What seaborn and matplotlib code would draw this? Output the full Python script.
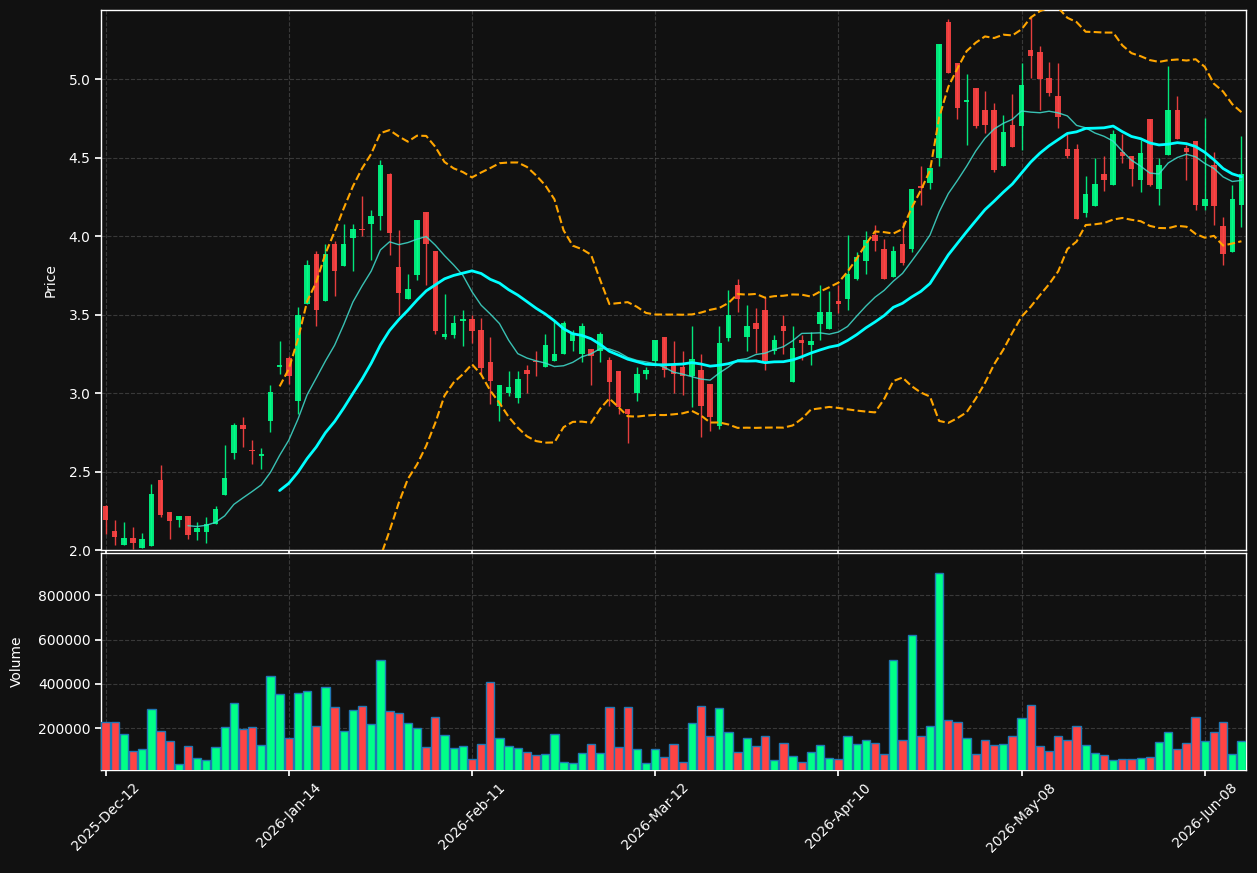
import numpy as np
import pandas as pd
import matplotlib
matplotlib.use("Agg")
import matplotlib.pyplot as plt
import seaborn as sns

# ---------------- data ----------------
tick_labels = ["2025-Dec-12", "2026-Jan-14", "2026-Feb-11", "2026-Mar-12",
               "2026-Apr-10", "2026-May-08", "2026-Jun-08"]

opens = [2.28, 2.12, 2.034, 2.077, 2.015, 2.028, 2.447, 2.243, 2.191, 2.217,
         2.117, 2.117, 2.168, 2.351, 2.615, 2.798, 2.632, 2.596, 2.819, 3.164,
         3.22, 2.947, 3.566, 3.887, 3.585, 3.951, 3.809, 3.987, 4.043, 4.077,
         4.128, 4.398, 3.80, 3.596, 3.755, 4.151, 3.902, 3.355, 3.372, 3.457,
         3.474, 3.404, 3.20, 2.915, 3.002, 2.966, 3.149, 3.202, 3.164, 3.206,
         3.247, 3.334, 3.247, 3.281, 3.266, 3.211, 3.143, 2.898, 3.0, 3.119,
         3.206, 3.360, 3.185, 3.168, 3.106, 3.149, 3.060, 2.791, 3.349, 3.691,
         3.355, 3.449, 3.532, 3.266, 3.430, 3.068, 3.338, 3.304, 3.438, 3.406,
         3.589, 3.598, 3.726, 3.840, 4.004, 3.915, 3.738, 3.951, 3.917, 4.321,
         4.338, 4.498, 5.362, 5.10, 4.851, 4.943, 4.802, 4.802, 4.447, 4.706,
         4.702, 5.185, 5.172, 5.006, 4.891, 4.553, 4.553, 4.147, 4.191, 4.398,
         4.326, 4.534, 4.513, 4.357, 4.743, 4.30, 4.515, 4.802, 4.564, 4.604,
         4.191, 4.451, 4.062, 3.898, 4.198]
highs = [2.285, 2.19, 2.177, 2.147, 2.106, 2.419, 2.54, 2.243, 2.217, 2.217,
         2.177, 2.211, 2.279, 2.668, 2.811, 2.849, 2.70, 2.649, 3.053, 3.33,
         3.238, 3.551, 3.849, 3.902, 3.951, 3.968, 4.074, 4.074, 4.253, 4.168,
         4.483, 4.40, 4.040, 3.760, 4.10, 4.151, 3.902, 3.632, 3.498, 3.530,
         3.498, 3.479, 3.360, 3.051, 3.140, 3.140, 3.179, 3.270, 3.377, 3.462,
         3.460, 3.402, 3.449, 3.281, 3.391, 3.232, 3.143, 2.898, 3.164, 3.168,
         3.338, 3.360, 3.334, 3.270, 3.430, 3.251, 3.060, 3.430, 3.657, 3.728,
         3.562, 3.543, 3.611, 3.370, 3.498, 3.428, 3.370, 3.391, 3.689, 3.653,
         3.687, 4.004, 3.90, 4.030, 4.072, 3.983, 3.934, 4.089, 4.302, 4.449,
         4.432, 5.223, 5.381, 5.10, 5.030, 4.943, 4.923, 4.845, 4.774, 4.902,
         5.10, 5.398, 5.211, 5.111, 5.10, 4.651, 4.589, 4.381, 4.50, 4.513,
         4.674, 4.651, 4.513, 4.611, 4.743, 4.498, 5.083, 4.891, 4.579, 4.604,
         4.749, 4.536, 4.121, 4.328, 4.636]
lows = [2.10, 2.03, 2.034, 2.004, 2.015, 2.028, 2.213, 2.072, 2.145, 2.072,
        2.066, 2.047, 2.168, 2.351, 2.579, 2.653, 2.547, 2.513, 2.751, 3.12,
        3.058, 2.866, 3.566, 3.426, 3.585, 3.617, 3.809, 3.777, 4.002, 3.845,
        4.040, 3.881, 3.494, 3.596, 3.721, 3.685, 3.377, 3.347, 3.351, 3.302,
        3.317, 3.121, 2.930, 2.821, 2.979, 2.936, 3.0, 3.109, 3.164, 3.206,
        3.247, 3.266, 3.20, 3.051, 3.20, 2.917, 2.866, 2.679, 2.947, 3.087,
        3.189, 3.104, 3.0, 2.987, 2.913, 2.721, 2.760, 2.770, 3.334, 3.515,
        3.266, 3.253, 3.147, 3.249, 3.249, 3.068, 3.211, 3.177, 3.338, 3.406,
        3.509, 3.530, 3.72, 3.760, 3.902, 3.726, 3.738, 3.813, 3.90, 4.196,
        4.302, 4.449, 5.040, 4.743, 4.583, 4.691, 4.657, 4.409, 4.447, 4.568,
        4.551, 5.004, 4.802, 4.891, 4.691, 4.498, 4.106, 4.121, 4.191, 4.287,
        4.326, 4.466, 4.321, 4.281, 4.319, 4.20, 4.515, 4.617, 4.355, 4.168,
        4.164, 4.072, 3.817, 3.898, 4.055]
closes = [2.19, 2.085, 2.077, 2.047, 2.068, 2.357, 2.223, 2.187, 2.217, 2.098,
          2.138, 2.164, 2.262, 2.46, 2.798, 2.774, 2.628, 2.613, 3.009, 3.181,
          3.106, 3.50, 3.817, 3.528, 3.883, 3.777, 3.951, 4.043, 4.038, 4.126,
          4.451, 4.019, 3.636, 3.660, 4.10, 3.947, 3.398, 3.379, 3.443, 3.474,
          3.398, 3.160, 3.074, 3.051, 3.040, 3.091, 3.119, 3.198, 3.306, 3.249,
          3.449, 3.377, 3.430, 3.234, 3.379, 3.068, 2.909, 2.864, 3.121, 3.149,
          3.338, 3.147, 3.121, 3.106, 3.217, 2.915, 2.845, 3.319, 3.498, 3.598,
          3.428, 3.406, 3.206, 3.338, 3.398, 3.289, 3.317, 3.334, 3.519, 3.513,
          3.566, 3.760, 3.866, 3.972, 3.968, 3.726, 3.902, 3.828, 4.302, 4.309,
          4.432, 5.223, 5.040, 4.817, 4.866, 4.702, 4.709, 4.419, 4.662, 4.568,
          4.962, 5.149, 5.002, 4.913, 4.760, 4.509, 4.106, 4.266, 4.33, 4.357,
          4.653, 4.509, 4.428, 4.532, 4.323, 4.451, 4.802, 4.617, 4.536, 4.196,
          4.234, 4.191, 3.887, 4.238, 4.394]
volumes = [227000, 227000, 173000, 96000, 105000, 286000, 186000, 141000, 37000, 119000,
           64000, 55000, 114000, 204000, 313000, 195000, 204000, 123000, 435000, 353000,
           155000, 358000, 367000, 209000, 385000, 295000, 186000, 281000, 299000, 218000,
           507000, 277000, 268000, 222000, 200000, 114000, 250000, 168000, 110000, 119000,
           60000, 129000, 408000, 155000, 122000, 113000, 92000, 78000, 82000, 173000,
           49000, 45000, 87000, 128000, 87000, 295000, 114000, 295000, 105000, 42000,
           105000, 69000, 128000, 49000, 222000, 299000, 164000, 290000, 182000, 92000,
           155000, 119000, 164000, 55000, 132000, 73000, 49000, 92000, 123000, 64000,
           60000, 164000, 128000, 146000, 132000, 82000, 507000, 146000, 620000, 164000,
           209000, 898000, 236000, 227000, 155000, 82000, 146000, 123000, 128000, 164000,
           245000, 304000, 119000, 96000, 164000, 146000, 209000, 123000, 87000, 78000,
           55000, 60000, 60000, 64000, 69000, 137000, 182000, 105000, 132000, 250000,
           141000, 182000, 227000, 82000, 141000]

# ---------------- derived ----------------
df = pd.DataFrame({"open": opens, "high": highs, "low": lows,
                   "close": closes, "volume": volumes})
df["idx"] = np.arange(len(df))
df["ma10"] = df["close"].rolling(10).mean()
df["ma20"] = df["close"].rolling(20).mean()
std20 = df["close"].rolling(20).std(ddof=0)
df["bb_up"] = df["ma20"] + 2 * std20
df["bb_lo"] = df["ma20"] - 2 * std20
up = df["close"] >= df["open"]

UP = "#00ff88"
DOWN = "#ff4444"
BG = "#111111"

sns.set_theme(style="darkgrid", rc={
    "figure.facecolor": BG, "axes.facecolor": BG, "savefig.facecolor": BG,
    "axes.edgecolor": "white", "axes.linewidth": 1.0,
    "axes.labelcolor": "white", "text.color": "white",
    "xtick.color": "white", "ytick.color": "white",
    "xtick.bottom": True, "ytick.left": True,
    "xtick.major.size": 4, "ytick.major.size": 4,
    "xtick.labelsize": 10, "ytick.labelsize": 10, "axes.labelsize": 10,
    "grid.color": "#555555", "grid.linestyle": "--", "grid.linewidth": 0.8,
    "grid.alpha": 0.6,
})
plt.rcParams["font.family"] = ["DejaVu Sans"]

W, H = 1257, 873
fig = plt.figure(figsize=(W / 100, H / 100), dpi=100)
ax = fig.add_axes([101 / W, (H - 550) / H, 1145 / W, 540 / H])
axv = fig.add_axes([101 / W, (H - 770) / H, 1145 / W, 217 / H], sharex=ax)

colors = np.where(up, UP, DOWN)

# candles
ax.vlines(df["idx"], df["low"], df["high"], colors=colors, lw=1, alpha=0.9, zorder=2)
body_h = np.maximum((df["close"] - df["open"]).abs(), 0.006)
ax.bar(df["idx"], body_h, bottom=np.minimum(df["open"], df["close"]),
       width=0.6, color=colors, alpha=0.9, linewidth=0, zorder=3)

# moving averages and bands
sns.lineplot(data=df, x="idx", y="ma10", ax=ax, color="turquoise", lw=1, alpha=0.85, zorder=4)
sns.lineplot(data=df, x="idx", y="ma20", ax=ax, color="cyan", lw=2, zorder=4)
sns.lineplot(data=df, x="idx", y="bb_up", ax=ax, color="orange", lw=1.5, linestyle="--", zorder=4)
sns.lineplot(data=df, x="idx", y="bb_lo", ax=ax, color="orange", lw=1.5, linestyle="--", zorder=4)

ax.set_ylim(2.0, 5.44)
ax.set_xlim(-0.5, len(df) - 0.5)
ax.set_ylabel("Price", labelpad=8)
ax.set_xlabel("")
ax.tick_params(labelbottom=False)
ax.grid(True)

# volume
axv.bar(df["idx"], df["volume"], width=0.9, color=colors,
        edgecolor="#1f77b4", linewidth=1, zorder=3)
axv.set_ylim(12000, 990000)
axv.set_yticks([200000, 400000, 600000, 800000])
axv.ticklabel_format(axis="y", style="plain")
axv.set_ylabel("Volume", labelpad=10)
axv.set_xticks(np.arange(0, len(df), 20))
axv.set_xticklabels(tick_labels, rotation=45)
axv.grid(True)

for a in (ax, axv):
    for s in a.spines.values():
        s.set_color("white")
        s.set_visible(True)

fig.savefig("out.png", dpi=100, facecolor=BG)
